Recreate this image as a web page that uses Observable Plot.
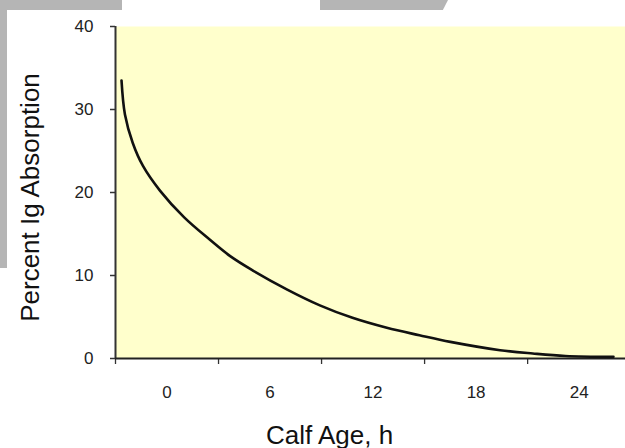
<!DOCTYPE html>
<html>
<head>
<meta charset="utf-8">
<script src="https://cdn.jsdelivr.net/npm/d3@7"></script>
<script src="https://cdn.jsdelivr.net/npm/@observablehq/plot@0.6"></script>
<style>
  html, body { margin: 0; padding: 0; background: #fff; }
  #wrap { position: relative; width: 625px; height: 448px; overflow: hidden; }
  .deco { position: absolute; background: #b5b5b5; }
  #chart { position: absolute; left: 0; top: 0; }
  #chart svg { background: transparent; }
</style>
</head>
<body>
<div id="wrap">
  <div class="deco" style="left:0;top:0;width:7px;height:268px;"></div>
  <div class="deco" style="left:0;top:0;width:122px;height:10px;"></div>
  <div class="deco" style="left:320px;top:0;width:128px;height:10px;clip-path:polygon(0 0,100% 0,96% 100%,0 100%);"></div>
  <div id="chart"></div>
</div>
<script>
// Calf age (h) and percent Ig absorption
const hours   = [-2.65, -2.45, -2.0, -1.4, -0.4, 1.0, 2.5, 3.7, 5.0, 7.0, 8.9, 10.8, 12.8, 14.7, 16.5, 19.4, 21.3, 23.2, 26.0];
const percent = [33.5, 29.4, 26.0, 23.2, 20.2, 17.0, 14.3, 12.3, 10.6, 8.3, 6.4, 4.9, 3.7, 2.8, 2.0, 1.0, 0.6, 0.3, 0.2];
const xLabels = [0, 6, 12, 18, 24];
const xTickMarks = [-3, 3, 9, 15, 21];
const yTicks = [0, 10, 20, 30, 40];
const xTitle = "Calf Age, h";
const yTitle = "Percent Ig Absorption";

const data = hours.map((h, i) => ({h, p: percent[i]}));

const chart = Plot.plot({
  width: 625,
  height: 448,
  marginLeft: 115,
  marginRight: 0,
  marginTop: 26,
  marginBottom: 90,
  style: {fontFamily: "'Liberation Sans', Arial, sans-serif", background: "transparent"},
  x: {domain: [-3, 26.7]},
  y: {domain: [0, 40]},
  marks: [
    Plot.frame({fill: "#ffffcc", stroke: null}),
    Plot.axisY({ticks: yTicks, tickSize: 5, tickPadding: 17, label: null, fontSize: 17,
      stroke: "#333", color: "#222", strokeWidth: 1.5,
      style: {letterSpacing: "1.5px"}}),
    Plot.axisX({ticks: xTickMarks, tickSize: 6, tickFormat: () => "", label: null, stroke: "#333", strokeWidth: 1.3}),
    Plot.axisX({ticks: xLabels, tickSize: 0, tickPadding: 27, label: null, fontSize: 17,
      color: "#222", style: {letterSpacing: "1.5px"}}),
    Plot.ruleX([-3], {stroke: "#333", strokeWidth: 2}),
    Plot.ruleY([0], {stroke: "#222", strokeWidth: 2}),
    Plot.line(data, {x: "h", y: "p", curve: "catmull-rom", stroke: "#111", strokeWidth: 2.6}),
    Plot.text([xTitle], {frameAnchor: "bottom", dx: -41, dy: 85, lineAnchor: "bottom",
      fontSize: 26, fill: "#111", style: {letterSpacing: "1px"}}),
    Plot.text([yTitle], {frameAnchor: "left", textAnchor: "middle", dx: -85, dy: 5, rotate: -90,
      fontSize: 26, fill: "#111", style: {letterSpacing: "1px"}})
  ]
});
document.getElementById("chart").appendChild(chart);
</script>
</body>
</html>
